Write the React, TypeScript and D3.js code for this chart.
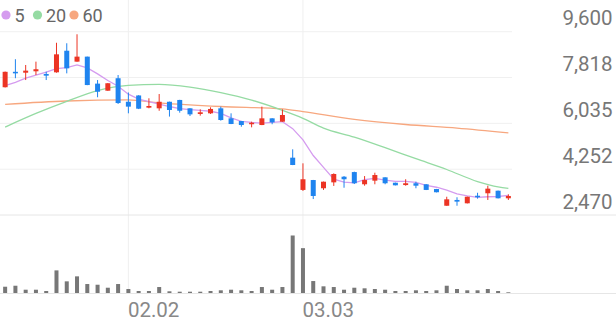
import React from "react";
import * as d3 from "d3";

const opens = [7440,8040,8005,8060,7955,8020,8860,8435,8630,7580,7305,7790,6875,7120,6645,6620,6875,6945,6620,6400,6425,6620,6230,6125,6000,5970,6230,6100,4700,3445,3830,3510,3740,3960,4140,3665,3805,3935,3725,3635,3705,3665,3480,2830,3055,2925,3220,3315,3415,3120];
const highs = [8050,8530,8305,8435,8045,9170,9150,9500,8630,7720,7600,7915,7235,7130,7010,7175,6880,6950,6625,6580,6660,6685,6425,6130,6100,6685,6235,6580,5025,4480,3835,3770,4090,3985,4155,3985,4115,3940,3730,3860,3765,3670,3485,3180,3160,3185,3335,3610,3420,3275];
const lows = [7430,7790,7720,7915,7720,8005,7980,8430,7520,7050,7300,6790,6425,6590,6620,6525,6298,6450,6320,6335,6400,6140,6005,5905,5880,5965,6000,6095,4410,3405,3090,3445,3600,3530,3675,3610,3665,3665,3620,3610,3510,3440,3350,2830,2830,2920,3105,3055,3115,3055];
const closes = [8040,7980,8085,8140,7890,8720,8175,8630,7525,7265,7595,6825,6685,6605,6710,6875,6555,6525,6385,6465,6595,6165,6010,5970,6060,6230,6075,6360,4415,3860,3210,3765,4065,3860,3705,3830,4025,3705,3625,3705,3610,3445,3355,3080,2990,3180,3160,3495,3120,3210];
const volumes = [63000,73000,33000,33000,20000,227000,117000,167000,90000,83000,53000,90000,40000,20000,20000,60000,17000,13000,13000,13000,20000,27000,33000,27000,20000,60000,33000,60000,577000,450000,120000,67000,60000,33000,53000,47000,40000,33000,20000,20000,27000,20000,27000,73000,40000,27000,27000,40000,20000,7000];

const ma5 = [7500,7630,7790,7915,8030,8160,8200,8310,8190,7960,7700,7480,7170,6975,6880,6780,6690,6610,6565,6540,6505,6420,6245,6115,6070,6040,6070,6100,5830,5390,4785,4320,3865,3750,3720,3845,3895,3825,3780,3780,3735,3620,3550,3440,3295,3210,3155,3180,3190,3235];
const ma20Idx = [0,3,6,9,12,15,18,21,24,27,29,31,34,37,40,43,46,48,49];
const ma20Val = [5890,6420,6890,7310,7510,7550,7445,7230,6940,6540,6230,5850,5500,5090,4660,4240,3770,3560,3505];
const ma60Idx = [0,6,12,15,21,27,29,34,39,44,49];
const ma60Val = [6775,6905,6945,6835,6690,6600,6490,6190,5990,5850,5665];

const priceTicks = [9600, 7818, 6035, 4252, 2470];
const xTickIdx = [12, 29];
const xTickLabels = ["02.02", "03.03"];

const legendLabels = ["5", "20", "60"];
const legendColors = ["#d59cef", "#95dba3", "#f7a77f"];

const UP = "#ec3424";
const DOWN = "#1f84ef";

export default function App() {
  const W = 616, H = 321;
  const n = closes.length;
  const x = d3.scaleBand<number>().domain(d3.range(n)).range([0, 513.5]).padding(0);
  const cx = (i: number) => (x(i) as number) + x.bandwidth() / 2;
  const y = d3.scaleLinear().domain([2470, 9600]).range([215, 31.7]);
  const yv = d3.scaleLinear().domain([0, d3.max(volumes) as number]).range([293, 235.5]);

  const lineIdx = d3.line<number>().x((_, i) => cx(i)).y((d) => y(d));
  const ma20Line = d3.line<number>().x((d) => cx(d)).y((_, k) => y(ma20Val[k])).curve(d3.curveMonotoneX);
  const ma60Line = d3.line<number>().x((d) => cx(d)).y((_, k) => y(ma60Val[k])).curve(d3.curveMonotoneX);

  const font = "Roboto, 'Noto Sans', sans-serif";

  return (
    <div style={{ position: "fixed", left: 0, top: 0, width: W, height: H, background: "#fff" }}>
      <svg width={W} height={H} style={{ display: "block" }}>
        {/* horizontal gridlines */}
        {priceTicks.slice(0, 4).map((t) => (
          <line key={"g" + t} x1={0} x2={512} y1={y(t)} y2={y(t)} stroke="#f0f0f0" strokeWidth={1} />
        ))}
        {xTickIdx.map((i) => (
          <line key={"v" + i} x1={cx(i)} x2={cx(i)} y1={0} y2={293} stroke="#efefef" strokeWidth={1} />
        ))}
        <line x1={0} x2={W} y1={y(2470)} y2={y(2470)} stroke="#e6e6e6" strokeWidth={1} />
        <line x1={0} x2={W} y1={293.5} y2={293.5} stroke="#e6e6e6" strokeWidth={1} />

        {/* moving averages */}
        <path d={ma60Line(ma60Idx) || ""} fill="none" stroke={legendColors[2]} strokeWidth={1.3} />
        <path d={ma20Line(ma20Idx) || ""} fill="none" stroke={legendColors[1]} strokeWidth={1.3} />
        <path d={lineIdx(ma5) || ""} fill="none" stroke={legendColors[0]} strokeWidth={1.3} />

        {/* candles */}
        {closes.map((c, i) => {
          const o = opens[i];
          const up = c >= o;
          const col = up ? UP : DOWN;
          const top = y(Math.max(o, c));
          const bot = y(Math.min(o, c));
          const xc = cx(i);
          return (
            <g key={"c" + i}>
              <line x1={xc} x2={xc} y1={y(highs[i])} y2={y(lows[i])} stroke={col} strokeWidth={1} />
              <rect x={xc - 2.5} width={5} y={top} height={Math.max(1.2, bot - top)} fill={col} />
            </g>
          );
        })}

        {/* volume */}
        {volumes.map((v, i) => (
          <rect key={"vb" + i} x={cx(i) - 2} width={4} y={yv(v)} height={293 - yv(v)} fill="#777777" />
        ))}

        {/* price axis labels */}
        {priceTicks.map((t) => (
          <text key={"t" + t} x={612.5} y={y(t) - 6.5} textAnchor="end" fontFamily={font} fontSize={20.5} fill="#777">
            {d3.format(",")(t)}
          </text>
        ))}

        {/* date labels */}
        {xTickIdx.map((i, k) => (
          <text key={"xl" + i} x={cx(i) - 0.5} y={316.5} fontFamily={font} fontSize={20.5} fill="#888">
            {xTickLabels[k]}
          </text>
        ))}

        {/* legend */}
        {legendLabels.map((l, k) => {
          const lx = [6, 37.5, 74][k];
          return (
            <g key={"lg" + k}>
              <circle cx={lx} cy={15} r={4.6} fill={legendColors[k]} />
              <text x={lx + 8.5} y={21.5} fontFamily={font} fontSize={18} fill="#666">{l}</text>
            </g>
          );
        })}
      </svg>
    </div>
  );
}
